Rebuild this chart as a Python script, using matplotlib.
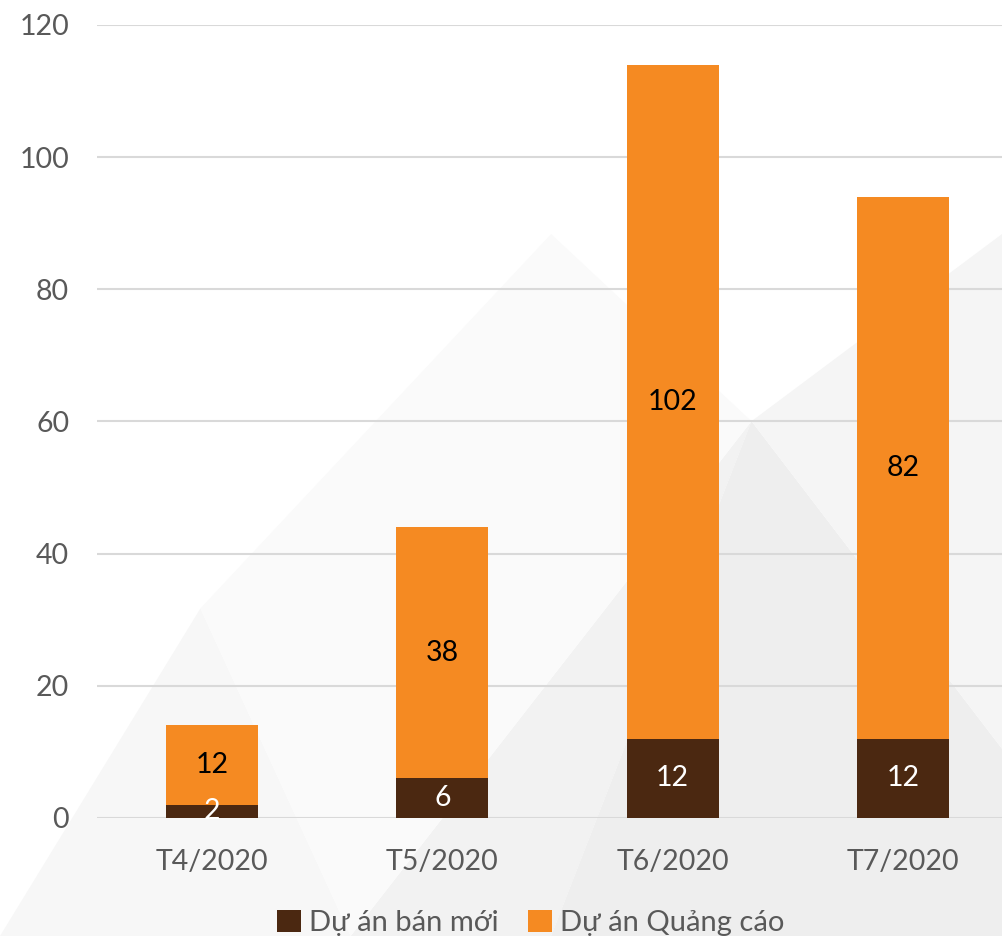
import matplotlib.pyplot as plt
from matplotlib.patches import Polygon
import numpy as np

# Data
months = ['T4/2020', 'T5/2020', 'T6/2020', 'T7/2020']
du_an_ban_moi = [2, 6, 12, 12]
du_an_quang_cao = [12, 38, 102, 82]

plt.rcParams['font.family'] = ['Lato', 'DejaVu Sans']

brown = '#4B2811'
orange = '#F58A22'
grey_text = '#595959'

fig = plt.figure(figsize=(10.02, 9.36), dpi=100)

# very faint geometric background
bg_shapes = [
    [(0.35, 0.0), (0.75, 0.55), (0.55, 0.0)],
    [(0.55, 0.0), (0.75, 0.55), (1.0, 0.2), (1.0, 0.0)],
    [(0.75, 0.55), (1.0, 0.75), (1.0, 0.2)],
    [(0.0, 0.0), (0.35, 0.0), (0.2, 0.35)],
    [(0.2, 0.35), (0.55, 0.75), (0.75, 0.55), (0.35, 0.0)],
]
shades = ['#F2F2F2', '#EEEEEE', '#F5F5F5', '#F7F7F7', '#FAFAFA']
for pts, c in zip(bg_shapes, shades):
    fig.patches.append(Polygon(pts, closed=True, transform=fig.transFigure,
                               facecolor=c, edgecolor='none', zorder=-1))

ax = fig.add_axes([0.0968, 0.1261, 0.9032, 0.8472])
ax.patch.set_alpha(0)

x = np.arange(len(months))
width = 0.4
b1 = ax.bar(x, du_an_ban_moi, width, color=brown, label='Dự án bán mới', zorder=3)
b2 = ax.bar(x, du_an_quang_cao, width, bottom=du_an_ban_moi, color=orange,
            label='Dự án Quảng cáo', zorder=3)

ax.bar_label(b1, label_type='center', color='white', fontsize=20.5)
ax.bar_label(b2, label_type='center', color='black', fontsize=20.5)

ax.set_ylim(0, 120)
ax.set_xlim(-0.5, 3.43)
ax.set_yticks(range(0, 121, 20))
ax.set_xticks(x)
ax.set_xticklabels(months)
ax.tick_params(axis='both', length=0, labelsize=20.5, colors=grey_text)
ax.tick_params(axis='y', pad=20)
ax.tick_params(axis='x', pad=22)
ax.grid(axis='y', color='#D9D9D9', linewidth=1.5, zorder=0)
for s in ax.spines.values():
    s.set_visible(False)

fig.legend(loc='lower center', bbox_to_anchor=(0.53, -0.028), ncol=2, frameon=False,
           fontsize=21, labelcolor=grey_text, handlelength=0.8, handleheight=0.8,
           handletextpad=0.3, columnspacing=1.0)

fig.savefig('out.png', dpi=100)
